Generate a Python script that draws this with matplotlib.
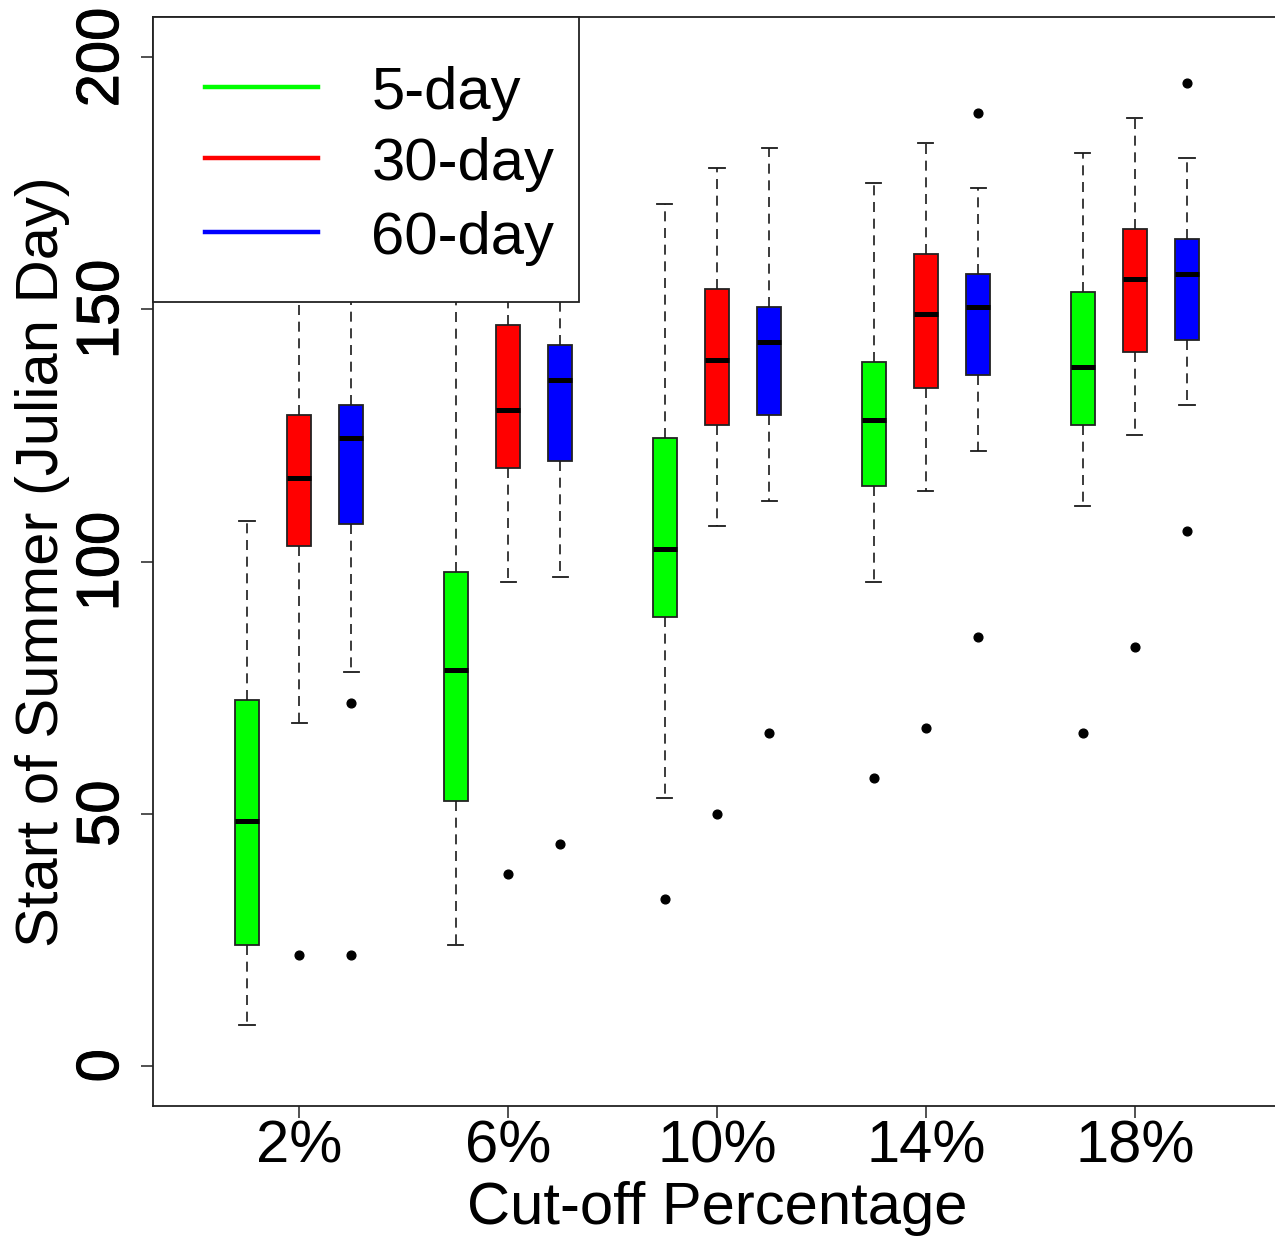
import matplotlib
matplotlib.use("Agg")
import matplotlib.pyplot as plt
import matplotlib.patheffects as pe
from matplotlib.lines import Line2D
from matplotlib.patches import Rectangle

# Cut-off percentages (also used as the x position of each group's centre box)
cutoffs = [2, 6, 10, 14, 18]
cutoff_labels = ["2%", "6%", "10%", "14%", "18%"]
windows = ["5-day", "30-day", "60-day"]
window_colors = ["#00FF00", "#FF0000", "#0000FF"]

# Box statistics for the 5-day window
d5_whislo = [8, 24, 53, 96, 111]
d5_q1 = [24, 52.5, 89, 115, 127]
d5_med = [48.5, 78.5, 102.5, 128, 138.5]
d5_q3 = [72.5, 98, 124.5, 139.5, 153.5]
d5_whishi = [108, 165, 171, 175, 181]
d5_fliers = [[], [], [33], [57], [66]]

# Box statistics for the 30-day window
d30_whislo = [68, 96, 107, 114, 125]
d30_q1 = [103, 118.5, 127, 134.5, 141.5]
d30_med = [116.5, 130, 140, 149, 156]
d30_q3 = [129, 147, 154, 161, 166]
d30_whishi = [160, 172, 178, 183, 188]
d30_fliers = [[22], [38], [50], [67], [83]]

# Box statistics for the 60-day window
d60_whislo = [78, 97, 112, 122, 131]
d60_q1 = [107.5, 120, 129, 137, 144]
d60_med = [124.5, 136, 143.5, 150.5, 157]
d60_q3 = [131, 143, 150.5, 157, 164]
d60_whishi = [158, 168, 182, 174, 180]
d60_fliers = [[22, 72], [44], [66], [85, 189], [106, 195]]

series = [
    (d5_whislo, d5_q1, d5_med, d5_q3, d5_whishi, d5_fliers),
    (d30_whislo, d30_q1, d30_med, d30_q3, d30_whishi, d30_fliers),
    (d60_whislo, d60_q1, d60_med, d60_q3, d60_whishi, d60_fliers),
]
offsets = [-1, 0, 1]

plt.rcParams["font.family"] = ["Liberation Sans", "DejaVu Sans"]
FS = 43

fig = plt.figure(figsize=(12.75, 12.41), dpi=100)
ax = fig.add_axes([153 / 1275, 1 - 1106 / 1241, 1128 / 1275, (1106 - 17) / 1241])

for (wlo, q1, med, q3, whi, fl), off, col in zip(series, offsets, window_colors):
    stats = []
    for i in range(len(cutoffs)):
        stats.append(dict(whislo=wlo[i], q1=q1[i], med=med[i], q3=q3[i],
                          whishi=whi[i], fliers=fl[i]))
    positions = [c + off for c in cutoffs]
    ax.bxp(stats, positions=positions, widths=0.46, patch_artist=True,
           showfliers=True, manage_ticks=False,
           boxprops=dict(facecolor=col, edgecolor="#222222", linewidth=1.3),
           medianprops=dict(color="black", linewidth=3.6, solid_capstyle="butt"),
           whiskerprops=dict(color="#1a1a1a", linewidth=1.2, linestyle=(0, (6, 4))),
           capprops=dict(color="#1a1a1a", linewidth=1.3),
           capwidths=0.29,
           flierprops=dict(marker="o", markerfacecolor="black",
                           markeredgecolor="black", markersize=6.3))

ax.set_xlim(-0.8, 20.8)
ax.set_ylim(-8, 208)
ax.set_xticks(cutoffs)
ax.set_xticklabels(cutoff_labels)
ax.set_yticks([0, 50, 100, 150, 200])
ax.set_yticklabels(["0", "50", "100", "150", "200"], rotation=90, va="center")
ax.tick_params(axis="both", labelsize=FS, length=8.5, width=1.1, color="#222222")
ax.tick_params(axis="y", pad=8)
ax.tick_params(axis="x", pad=1)
for lab in ax.get_yticklabels():
    lab.set_path_effects([pe.withStroke(linewidth=0.7, foreground="black")])
for sp in ax.spines.values():
    sp.set_linewidth(1.3)
    sp.set_color("#222222")

ax.set_xlabel("Cut-off Percentage", fontsize=FS, labelpad=5)
ax.set_ylabel("Start of Summer (Julian Day)", fontsize=FS, labelpad=4)

# Legend box in the top-left corner
ax.add_patch(Rectangle((0, 0.738), 0.378, 0.262, transform=ax.transAxes,
                       facecolor="white", edgecolor="#222222", linewidth=1.3,
                       zorder=5, clip_on=False))
row_y = [0.9356, 0.8703, 0.8022]
for name, col, yy in zip(windows, window_colors, row_y):
    ax.add_line(Line2D([0.0464, 0.1463], [yy, yy], transform=ax.transAxes,
                       color=col, linewidth=3.2, zorder=6))
    ax.text(0.1936, yy - 0.006, name, transform=ax.transAxes, fontsize=FS,
            va="center", ha="left", zorder=6)

fig.savefig("out.png", dpi=100)
